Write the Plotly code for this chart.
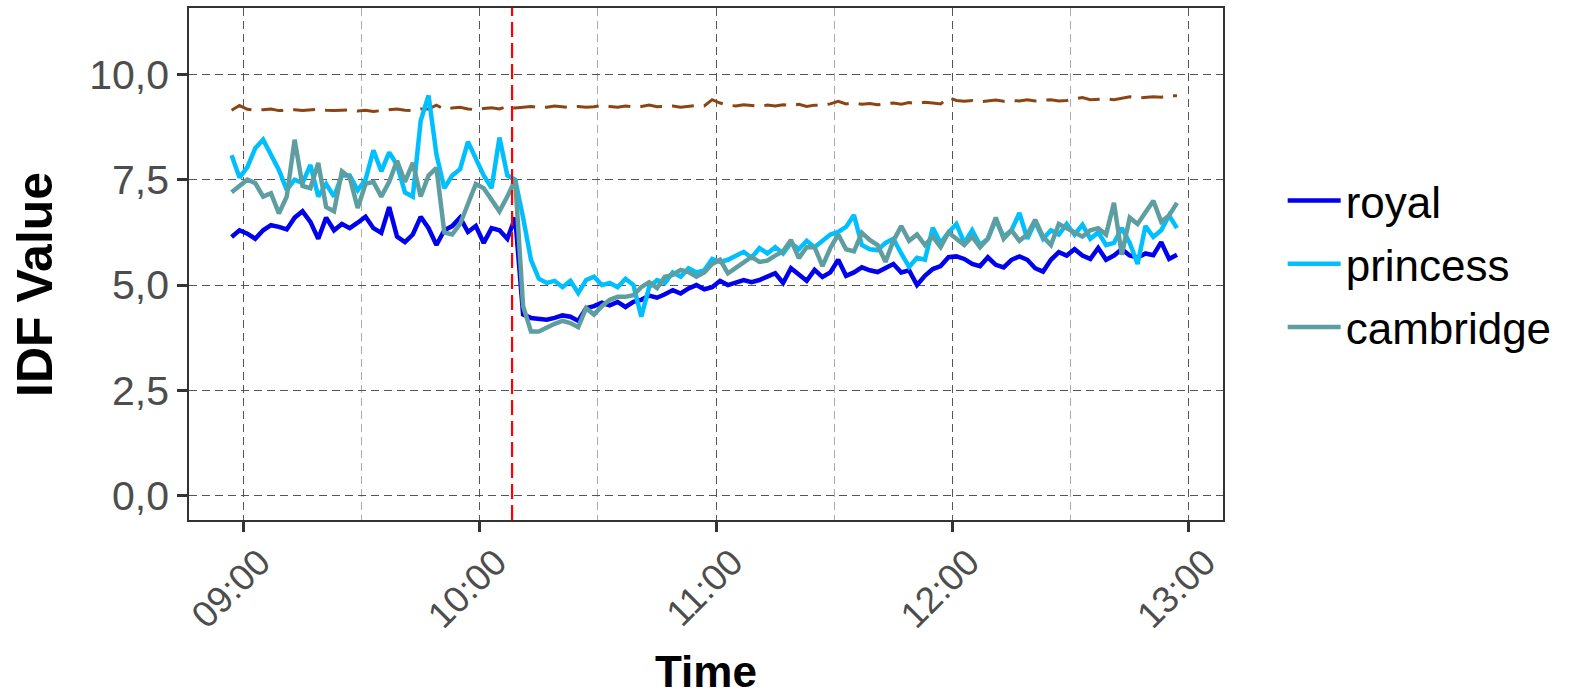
import pandas as pd
import plotly.graph_objects as go

# ---- data (2-minute samples from 08:57 to 12:57) ----
start_time = "2018-05-19 08:57"
n_points = 121
times = pd.date_range(start_time, periods=n_points, freq="2min")

royal = [
    6.14, 6.30, 6.22, 6.10, 6.30, 6.42, 6.38, 6.32, 6.60, 6.75,
    6.50, 6.10, 6.60, 6.30, 6.45, 6.35, 6.48, 6.62, 6.35, 6.24,
    6.85, 6.15, 6.02, 6.20, 6.62, 6.35, 5.95, 6.30, 6.40, 6.60,
    6.26, 6.40, 6.00, 6.35, 6.30, 6.10, 6.60, 4.30, 4.22, 4.20,
    4.18, 4.22, 4.28, 4.25, 4.15, 4.45, 4.50, 4.58, 4.52, 4.60,
    4.48, 4.60, 4.65, 4.75, 4.70, 4.78, 4.88, 4.80, 4.92, 5.00,
    4.90, 4.95, 5.10, 5.00, 5.05, 5.12, 5.07, 5.12, 5.20, 5.28,
    5.05, 5.40, 5.25, 5.10, 5.36, 5.19, 5.30, 5.60, 5.22, 5.30,
    5.42, 5.35, 5.31, 5.42, 5.50, 5.30, 5.35, 5.00, 5.22, 5.38,
    5.45, 5.66, 5.68, 5.62, 5.50, 5.45, 5.66, 5.48, 5.42, 5.60,
    5.68, 5.60, 5.40, 5.32, 5.60, 5.78, 5.70, 5.85, 5.70, 5.62,
    5.88, 5.60, 5.70, 5.85, 5.70, 5.65, 5.75, 5.71, 6.02, 5.62,
    5.72,
]

princess = [
    8.08, 7.55, 7.80, 8.25, 8.45, 8.10, 7.73, 7.26, 7.50, 7.42,
    7.85, 7.10, 7.40, 7.10, 7.60, 7.60, 7.25, 7.50, 8.20, 7.70,
    8.15, 7.85, 7.20, 7.10, 8.90, 9.50, 8.10, 7.30, 7.60, 7.75,
    8.40, 8.00, 7.60, 7.30, 8.50, 7.60, 7.50, 6.60, 5.60, 5.15,
    5.05, 5.10, 4.95, 5.10, 4.81, 5.12, 5.20, 5.00, 5.05, 4.95,
    5.15, 5.00, 4.25, 4.95, 5.12, 5.05, 5.30, 5.20, 5.40, 5.30,
    5.35, 5.62, 5.55, 5.60, 5.70, 5.79, 5.65, 5.88, 5.75, 5.90,
    5.75, 6.00, 5.85, 6.05, 5.90, 6.05, 6.20, 6.26, 6.38, 6.66,
    5.95, 5.85, 5.83, 6.00, 6.10, 5.75, 5.43, 5.65, 5.60, 6.36,
    6.00, 6.25, 6.45, 6.00, 6.30, 5.95, 6.10, 6.55, 6.15, 6.30,
    6.71, 6.10, 6.50, 6.10, 6.30, 6.20, 6.45, 6.20, 6.43, 6.10,
    6.25, 5.95, 6.00, 6.35, 6.00, 5.50, 6.40, 6.14, 6.30, 6.65,
    6.35,
]

cambridge = [
    7.20, 7.35, 7.50, 7.42, 7.10, 7.18, 6.70, 7.10, 8.45, 7.35,
    7.30, 7.90, 6.85, 6.75, 7.70, 7.55, 6.83, 7.40, 7.45, 7.10,
    7.45, 7.95, 7.45, 7.90, 7.10, 7.60, 7.78, 6.25, 6.20, 6.45,
    6.90, 7.40, 7.30, 7.00, 6.75, 7.10, 7.50, 4.50, 3.90, 3.90,
    4.00, 4.08, 4.15, 4.10, 4.00, 4.45, 4.30, 4.50, 4.65, 4.72,
    4.72, 4.76, 4.95, 5.07, 4.93, 5.20, 5.24, 5.36, 5.31, 5.20,
    5.30, 5.50, 5.60, 5.28, 5.41, 5.55, 5.67, 5.55, 5.58, 5.70,
    5.80, 6.07, 5.64, 5.90, 5.90, 5.45, 5.88, 6.20, 5.85, 5.80,
    6.24, 6.07, 5.95, 5.55, 6.05, 6.40, 6.05, 6.20, 5.95, 6.15,
    5.90, 6.25, 6.10, 5.95, 6.15, 5.90, 6.10, 6.60, 6.10, 6.30,
    6.05, 6.20, 6.55, 6.15, 5.95, 6.45, 6.35, 6.25, 6.15, 6.30,
    6.35, 6.20, 6.95, 5.72, 6.60, 6.45, 6.75, 7.00, 6.50, 6.65,
    6.95,
]

baseline = [
    9.15, 9.26, 9.17, 9.15, 9.16, 9.18, 9.14, 9.15, 9.16, 9.14,
    9.15, 9.17, 9.15, 9.14, 9.15, 9.16, 9.13, 9.15, 9.12, 9.14,
    9.16, 9.18, 9.15, 9.14, 9.18, 9.18, 9.27, 9.17, 9.20, 9.22,
    9.18, 9.16, 9.19, 9.21, 9.18, 9.24, 9.20, 9.22, 9.24, 9.21,
    9.22, 9.25, 9.23, 9.21, 9.24, 9.22, 9.23, 9.26, 9.24, 9.22,
    9.25, 9.23, 9.24, 9.27, 9.23, 9.24, 9.25, 9.22, 9.24, 9.26,
    9.25, 9.40, 9.32, 9.27, 9.25, 9.28, 9.26, 9.24, 9.27, 9.25,
    9.28, 9.26, 9.29, 9.24, 9.27, 9.27, 9.30, 9.36, 9.30, 9.32,
    9.29, 9.31, 9.28, 9.30, 9.32, 9.29, 9.33, 9.31, 9.34, 9.32,
    9.30, 9.45, 9.38, 9.36, 9.38, 9.35, 9.37, 9.39, 9.36, 9.38,
    9.37, 9.40, 9.37, 9.38, 9.40, 9.37, 9.38, 9.42, 9.45, 9.40,
    9.41, 9.42, 9.40, 9.43, 9.47, 9.44, 9.45, 9.47, 9.46, 9.50,
    9.49,
]

event_time = "2018-05-19 10:08:12"
x_range = ["2018-05-19 08:46:11", "2018-05-19 13:08:41"]
y_range = [-0.575, 11.575]
y_ticks = [0, 2.5, 5, 7.5, 10]
y_tick_labels = ["0,0", "2,5", "5,0", "7,5", "10,0"]
x_title = "Time"
y_title = "IDF Value"

series = [
    ("royal", royal, "#0000EE"),
    ("princess", princess, "#00BFFF"),
    ("cambridge", cambridge, "#5F9EA0"),
]

FONT = "Liberation Sans, Arial, Helvetica, sans-serif"

fig = go.Figure()
fig.add_trace(go.Scatter(
    x=times, y=baseline, mode="lines", showlegend=False, hoverinfo="skip",
    line=dict(color="#8B4513", width=3, dash="22px,10px"),
))
for name, vals, col in series:
    fig.add_trace(go.Scatter(
        x=times, y=vals, mode="lines", name=name, legendgroup=name,
        line=dict(color=col, width=4.5),
    ))

fig.add_shape(type="line", xref="x", yref="paper", x0=event_time, x1=event_time,
              y0=0, y1=1, line=dict(color="#FF0000", width=2.2, dash="15px,6px"))

fig.update_layout(
    width=1577, height=696,
    margin=dict(l=189, r=354, t=8, b=176, autoexpand=False),
    plot_bgcolor="white", paper_bgcolor="white",
    font=dict(family=FONT, color="#4D4D4D"),
    legend=dict(x=1.0577, y=0.5, xanchor="left", yanchor="middle",
                font=dict(size=44, color="black", family=FONT),
                itemwidth=53, tracegroupgap=3, bgcolor="rgba(0,0,0,0)"),
    annotations=[
        dict(text="<b>%s</b>" % x_title, xref="paper", yref="paper", x=0.5, y=-0.296,
             xanchor="center", yanchor="middle", showarrow=False,
             font=dict(size=44, color="black", family=FONT)),
        dict(text="<b>%s</b>" % y_title, xref="paper", yref="paper", x=-0.149, y=0.461,
             xanchor="center", yanchor="middle", textangle=-90, showarrow=False,
             font=dict(size=50, color="black", family=FONT)),
    ],
)

grid_common = dict(showgrid=True, gridcolor="#555555", gridwidth=1.3, griddash="8px,5px",
                   ticks="outside", ticklen=10, tickwidth=3, tickcolor="#333333",
                   showline=True, mirror=True, linecolor="#333333", linewidth=1.5,
                   zeroline=False, automargin=False)

fig.update_xaxes(
    type="date", range=x_range, dtick=3600000, tickformat="%H:%M", tickangle=-45,
    tickfont=dict(size=37, color="#4D4D4D", family=FONT),
    ticklabelshift=16, ticklabelstandoff=-6,
    minor=dict(dtick=1800000, showgrid=True, gridcolor="#AAAAAA", gridwidth=1.3,
               griddash="8px,5px", ticks=""),
    **grid_common,
)
fig.update_yaxes(
    range=y_range, tickvals=y_ticks, ticktext=y_tick_labels,
    tickfont=dict(size=41, color="#4D4D4D", family=FONT),
    **grid_common,
)

fig.write_html(
    "out.html",
    config={"displayModeBar": False},
    post_script="document.body.style.margin='0';document.body.style.padding='0';"
                "document.documentElement.style.overflow='hidden';",
)
